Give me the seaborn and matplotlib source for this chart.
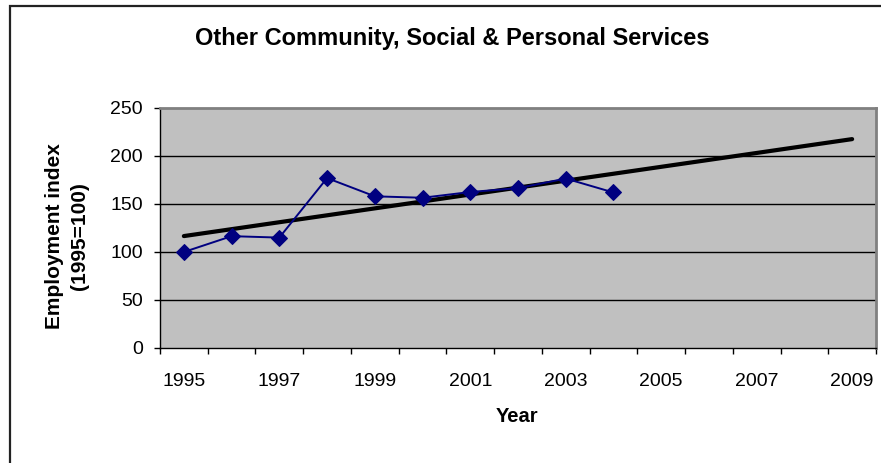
import numpy as np
import pandas as pd
import matplotlib
matplotlib.use("Agg")
import matplotlib.pyplot as plt
from matplotlib.patches import Rectangle
import seaborn as sns

# Employment index for the sector, 1995 = 100
years = [1995, 1996, 1997, 1998, 1999, 2000, 2001, 2002, 2003, 2004]
index_values = [100, 116.5, 115, 177, 158, 156.5, 162.5, 166.5, 176.5, 162]
forecast_years = list(range(1995, 2010))
label_years = [1995, 1997, 1999, 2001, 2003, 2005, 2007, 2009]
y_ticks = [0, 50, 100, 150, 200, 250]

sns.set_theme(style="white")
plt.rcParams["font.family"] = ["Liberation Sans", "DejaVu Sans"]
plt.rcParams["text.color"] = "black"
plt.rcParams["xtick.color"] = "black"
plt.rcParams["ytick.color"] = "black"

df = pd.DataFrame({"Year": years, "Index": index_values})

# Linear trend fitted to the observed points, extended to 2009
slope, intercept = np.polyfit(years, index_values, 1)
trend = pd.DataFrame({"Year": forecast_years,
                      "Trend": [slope * y + intercept for y in forecast_years]})

fig = plt.figure(figsize=(8.81, 4.63), dpi=100)
ax = fig.add_axes([160 / 881, 1 - 348 / 463, (876 - 160) / 881, (348 - 108) / 463])
ax.set_facecolor("#C0C0C0")

# outer chart frame
fig.patches.append(Rectangle((10 / 881, -0.1), 1.2, 1 - 6 / 463 + 0.1,
                             transform=fig.transFigure, fill=False,
                             edgecolor="#222222", linewidth=1.6, zorder=0))

for v in y_ticks[1:-1]:
    ax.axhline(v, color="black", linewidth=1.0, zorder=1)

sns.lineplot(data=trend, x="Year", y="Trend", ax=ax, color="black",
             linewidth=3.0, zorder=2, solid_capstyle="round")
sns.lineplot(data=df, x="Year", y="Index", ax=ax, color="#000080",
             linewidth=1.4, marker="D", markersize=8.5,
             markeredgecolor="#000080", markerfacecolor="#000080", zorder=3)

ax.set_xlim(1994.5, 2009.5)
ax.set_ylim(0, 250)
ax.set_yticks(y_ticks)
ax.set_yticklabels([str(v) for v in y_ticks], fontsize=14)
ax.tick_params(axis="y", which="major", direction="out", length=4.5, width=1,
               color="black", left=True, pad=8)

ax.set_xticks(np.arange(1994.5, 2010.0, 1.0))
ax.set_xticklabels([])
ax.tick_params(axis="x", which="major", direction="out", length=4.5, width=1,
               color="black", bottom=True)
ax.set_xticks(label_years, minor=True)
ax.set_xticklabels([str(y) for y in label_years], minor=True, fontsize=14)
ax.tick_params(axis="x", which="minor", length=0, pad=18)

ax.set_xlabel("")
ax.set_ylabel("")
for side in ["left", "bottom"]:
    ax.spines[side].set_color("black")
    ax.spines[side].set_linewidth(1.0)
for side in ["top", "right"]:
    ax.spines[side].set_color("#808080")
    ax.spines[side].set_linewidth(2.0)

fig.text(452 / 881, 1 - 45 / 463, "Other Community, Social & Personal Services",
         ha="center", va="baseline", fontsize=17, fontweight="bold")
fig.text(67 / 881, 1 - 236 / 463, "Employment index\n(1995=100)",
         ha="center", va="center", rotation=90, fontsize=15,
         fontweight="bold", linespacing=1.45)
fig.text(517 / 881, 1 - 422 / 463, "Year", ha="center", va="baseline",
         fontsize=14.5, fontweight="bold")

fig.savefig("out.png", dpi=100, facecolor="white")
